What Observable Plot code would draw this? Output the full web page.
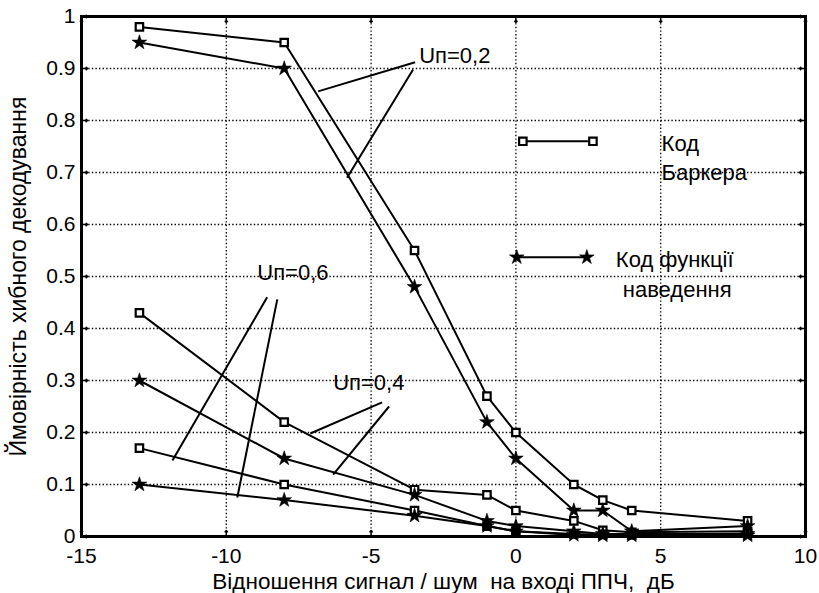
<!DOCTYPE html>
<html>
<head>
<meta charset="utf-8">
<script src="https://cdn.jsdelivr.net/npm/d3@7"></script>
<script src="https://cdn.jsdelivr.net/npm/@observablehq/plot@0.6"></script>
<style>
  html, body { margin: 0; padding: 0; background: #fff; }
  #chart svg { font-family: "Liberation Sans", Arial, sans-serif; }
</style>
</head>
<body>
<div id="chart"></div>
<script>
// ---- data ----
const snr = [-13, -8, -3.5, -1, 0, 2, 3, 4, 8];
const barker02 = [0.98, 0.95, 0.55, 0.27, 0.20, 0.10, 0.07, 0.05, 0.03];
const funk02   = [0.95, 0.90, 0.48, 0.22, 0.15, 0.05, 0.05, 0.01, 0.02];
const barker04 = [0.43, 0.22, 0.09, 0.08, 0.05, 0.03, 0.012, 0.008, 0.01];
const funk04   = [0.30, 0.15, 0.08, 0.03, 0.02, 0.01, 0.005, 0.005, 0.005];
const barker06 = [0.17, 0.10, 0.05, 0.02, 0.01, 0.005, 0.004, 0.003, 0.006];
const funk06   = [0.10, 0.07, 0.04, 0.02, 0.01, 0.003, 0.002, 0.002, 0.002];

const xTicks = [-15, -10, -5, 0, 5, 10];
const yTicks = [0, 0.1, 0.2, 0.3, 0.4, 0.5, 0.6, 0.7, 0.8, 0.9, 1];
const xTitle = "Відношення сигнал / шум\u00a0 на вході ППЧ,\u00a0 дБ";
const yTitle = "Ймовірність хибного декодування";

// callout labels and pointer lines (data units)
const calloutLabels = [
  {text: "Uп=0,2", x: -3.34, y: 0.925},
  {text: "Uп=0,6", x: -8.93, y: 0.506},
  {text: "Uп=0,4", x: -6.31, y: 0.296}
];
const calloutLines = [
  {id: "a1", x1: -3.48, y1: 0.912, x2: -6.83, y2: 0.856},
  {id: "a2", x1: -3.55, y1: 0.898, x2: -5.83, y2: 0.690},
  {id: "b1", x1: -8.59, y1: 0.460, x2: -11.86, y2: 0.146},
  {id: "b2", x1: -8.24, y1: 0.456, x2: -9.62, y2: 0.075},
  {id: "c1", x1: -4.62, y1: 0.258, x2: -7.10, y2: 0.198},
  {id: "c2", x1: -4.38, y1: 0.250, x2: -6.31, y2: 0.119}
];
// in-plot legend
const legendSamples = [
  {kind: "square", x1: 0.24, x2: 2.66, y: 0.76},
  {kind: "star",   x1: 0.03, x2: 2.45, y: 0.537}
];
const legendTexts = [
  {text: "Код", x: 5.03, y: 0.755},
  {text: "Баркера", x: 5.03, y: 0.70},
  {text: "Код функції", x: 3.45, y: 0.531},
  {text: "наведення", x: 3.69, y: 0.475}
];

// ---- build rows ----
const seriesDefs = [
  {name: "barker02", vals: barker02, kind: "square"},
  {name: "funk02", vals: funk02, kind: "star"},
  {name: "barker04", vals: barker04, kind: "square"},
  {name: "funk04", vals: funk04, kind: "star"},
  {name: "barker06", vals: barker06, kind: "square"},
  {name: "funk06", vals: funk06, kind: "star"}
];
const rows = seriesDefs.flatMap(s => s.vals.map((v, i) => ({x: snr[i], y: v, series: s.name, kind: s.kind})));
const legendRows = legendSamples.flatMap((s, i) => [
  {x: s.x1, y: s.y, kind: s.kind, series: "leg" + i},
  {x: s.x2, y: s.y, kind: s.kind, series: "leg" + i}
]);
const allPts = rows.concat(legendRows);

const FS = 22;
const TFS = 21;
const chart = Plot.plot({
  width: 819,
  height: 593,
  marginLeft: 81,
  marginRight: 14,
  marginTop: 16,
  marginBottom: 57,
  style: {fontFamily: "'Liberation Sans', Arial, sans-serif", fontSize: FS + "px", background: "white", color: "black"},
  x: {domain: [-15, 10]},
  y: {domain: [0, 1]},
  marks: [
    Plot.gridX(xTicks.slice(1, -1), {stroke: "black", strokeOpacity: 1, strokeWidth: 1.3, strokeDasharray: "1.4,2.2"}),
    Plot.gridY(yTicks.slice(1, -1), {stroke: "black", strokeOpacity: 1, strokeWidth: 1.3, strokeDasharray: "1.4,2.2"}),
    // inward ticks on all four sides
    Plot.vector(xTicks, {x: d => d, y: 0, length: 6, rotate: 0, anchor: "start", stroke: "black", strokeWidth: 1.5}),
    Plot.vector(xTicks, {x: d => d, y: 1, length: 6, rotate: 180, anchor: "start", stroke: "black", strokeWidth: 1.5}),
    Plot.vector(yTicks, {x: -15, y: d => d, length: 6, rotate: 90, anchor: "start", stroke: "black", strokeWidth: 1.5}),
    Plot.vector(yTicks, {x: 10, y: d => d, length: 6, rotate: 270, anchor: "start", stroke: "black", strokeWidth: 1.5}),
    Plot.axisX(xTicks, {tickSize: 0, tickPadding: 12, tickFormat: d => String(d), label: null, fontSize: TFS}),
    Plot.axisY(yTicks, {tickSize: 0, tickPadding: 6, tickFormat: d => String(d), label: null, fontSize: TFS}),
    // callout pointer lines
    Plot.link(calloutLines, {x1: "x1", y1: "y1", x2: "x2", y2: "y2", stroke: "black", strokeWidth: 2}),
    // data lines
    Plot.line(allPts, {x: "x", y: "y", z: "series", stroke: "black", strokeWidth: 2}),
    Plot.dot(allPts.filter(d => d.kind === "square"), {x: "x", y: "y", symbol: "square", r: 4.2, fill: "white", stroke: "black", strokeWidth: 2.2}),
    Plot.dot(allPts.filter(d => d.kind === "star"), {x: "x", y: "y", symbol: "star", r: 4.6, fill: "black", stroke: "black", strokeWidth: 0.6}),
    Plot.text(calloutLabels, {x: "x", y: "y", text: "text", textAnchor: "start", lineAnchor: "middle", fontSize: FS, fill: "black"}),
    Plot.text(legendTexts, {x: "x", y: "y", text: "text", textAnchor: "start", lineAnchor: "middle", fontSize: FS, fill: "black"}),
    Plot.text([xTitle], {frameAnchor: "bottom", dy: 45, textAnchor: "middle", lineAnchor: "middle", fontSize: 22.5, fill: "black"}),
    Plot.text([yTitle], {frameAnchor: "left", dx: -63, rotate: -90, textAnchor: "middle", lineAnchor: "middle", fontSize: 23, fill: "black"}),
    Plot.frame({stroke: "black", strokeWidth: 3})
  ]
});
document.getElementById("chart").appendChild(chart);
</script>
</body>
</html>
